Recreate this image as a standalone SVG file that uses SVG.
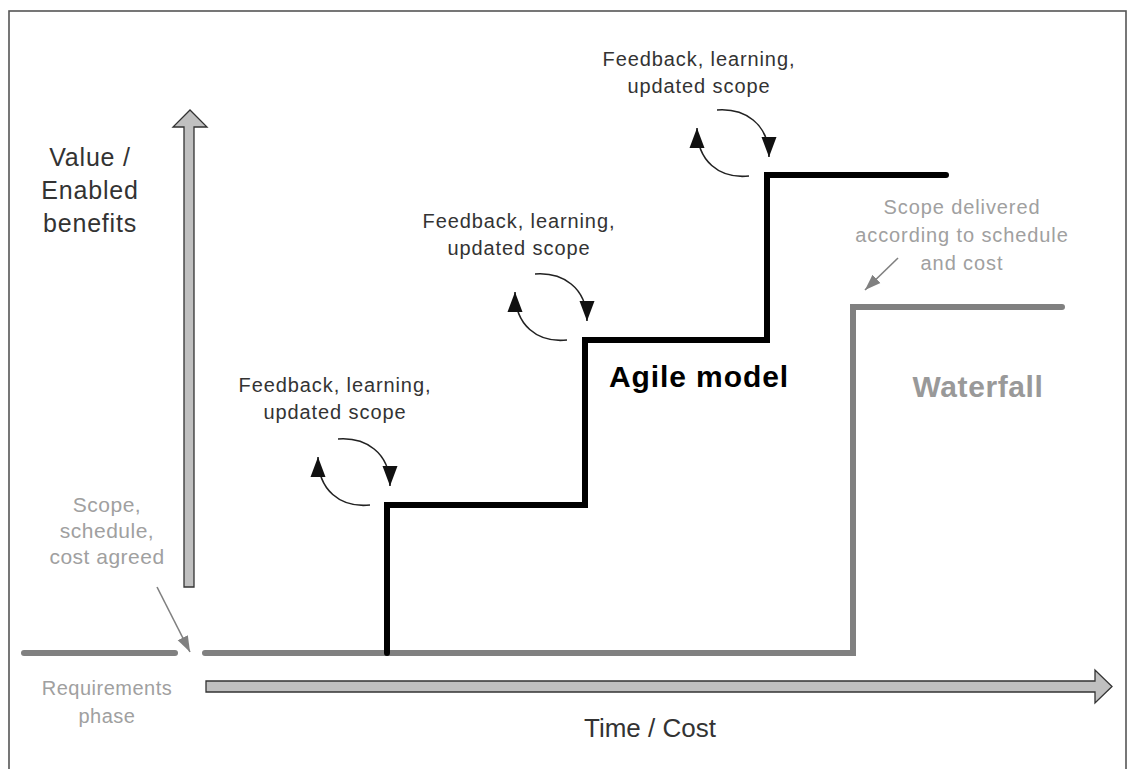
<svg xmlns="http://www.w3.org/2000/svg" width="1130" height="769" viewBox="0 0 1130 769">
<style>
.t{font-family:"Liberation Sans",Arial,sans-serif;text-anchor:middle}
.dark{fill:#333}
.grey{fill:#a0a0a0}
.fb{font-size:20px;letter-spacing:0.9px;fill:#333}
.axis{fill:#c0c0c0;stroke:#333;stroke-width:1.3}
.cyc{fill:none;stroke:#222;stroke-width:1.6}
.ptr{fill:none;stroke:#808080;stroke-width:1.6}
</style>
<defs>
<marker id="ah" markerUnits="userSpaceOnUse" markerWidth="20" markerHeight="20" viewBox="0 0 16 12" refX="16" refY="6" orient="auto">
<path d="M0,0 L16,6 L0,12 Z" fill="#111"/>
</marker>
<marker id="ag" markerUnits="userSpaceOnUse" markerWidth="16" markerHeight="16" viewBox="0 0 14 10" refX="14" refY="5" orient="auto">
<path d="M0,0 L14,5 L0,10 Z" fill="#808080"/>
</marker>
</defs>
<rect width="1130" height="769" fill="#fff"/>
<rect x="9" y="11" width="1117" height="800" fill="none" stroke="#555" stroke-width="1.6"/>

<g id="value-axis">
<polygon class="axis" points="184,587 184,127 173,127 190,110 207,127 194,127 194,587"/>
<text class="t dark" font-size="25" letter-spacing="0.8" x="90" y="166">Value /</text>
<text class="t dark" font-size="25" letter-spacing="0.8" x="90" y="199">Enabled</text>
<text class="t dark" font-size="25" letter-spacing="0.8" x="90" y="232">benefits</text>
</g>

<g id="time-axis">
<polygon class="axis" points="206,681 1095,681 1095,670 1112,686.5 1095,703 1095,692 206,692"/>
<text class="t dark" font-size="26" x="650" y="737">Time / Cost</text>
</g>

<g id="requirements">
<line x1="24" y1="653" x2="175" y2="653" stroke="#808080" stroke-width="6" stroke-linecap="round"/>
<text class="t grey" font-size="20" letter-spacing="0.5" x="107" y="695">Requirements</text>
<text class="t grey" font-size="20" letter-spacing="0.5" x="107" y="723">phase</text>
</g>

<g id="agreed-note">
<text class="t grey" font-size="21" letter-spacing="0.5" x="107" y="512">Scope,</text>
<text class="t grey" font-size="21" letter-spacing="0.5" x="107" y="538">schedule,</text>
<text class="t grey" font-size="21" letter-spacing="0.5" x="107" y="564">cost agreed</text>
</g>

<g id="waterfall">
<polyline points="205,653 853,653 853,307 1062,307" fill="none" stroke="#808080" stroke-width="6" stroke-linecap="round" stroke-linejoin="miter"/>
<text class="t" font-size="30" font-weight="bold" letter-spacing="0.6" fill="#999" x="978" y="397">Waterfall</text>
</g>

<g id="delivered-note">
<text class="t grey" font-size="20" letter-spacing="0.9" x="962" y="214">Scope delivered</text>
<text class="t grey" font-size="20" letter-spacing="0.9" x="962" y="242">according to schedule</text>
<text class="t grey" font-size="20" letter-spacing="0.9" x="962" y="270">and cost</text>
</g>

<g id="agile">
<polyline points="387,653 387,505 585,505 585,340 767,340 767,175 946,175" fill="none" stroke="#000" stroke-width="6" stroke-linecap="round" stroke-linejoin="miter"/>
<text class="t" font-size="30" font-weight="bold" letter-spacing="0.9" fill="#000" x="699" y="387">Agile model</text>
</g>

<g id="feedback-1">
<text class="t fb" x="335" y="392">Feedback, learning,</text>
<text class="t fb" x="335" y="419">updated scope</text>
</g>
<g id="feedback-2">
<text class="t fb" x="519" y="228">Feedback, learning,</text>
<text class="t fb" x="519" y="255">updated scope</text>
</g>
<g id="feedback-3">
<text class="t fb" x="699" y="66">Feedback, learning,</text>
<text class="t fb" x="699" y="93">updated scope</text>
</g>

<g id="connectors">
<path class="cyc" d="M338,439 C365,437 390,452 390,486" marker-end="url(#ah)"/>
<path class="cyc" d="M370,505 C340,508 318,490 318,457" marker-end="url(#ah)"/>
<path class="cyc" d="M535,274 C562,272 587,287 587,321" marker-end="url(#ah)"/>
<path class="cyc" d="M567,340 C537,343 515,325 515,292" marker-end="url(#ah)"/>
<path class="cyc" d="M717,110 C744,108 769,123 769,157" marker-end="url(#ah)"/>
<path class="cyc" d="M749,176 C719,179 697,161 697,128" marker-end="url(#ah)"/>
<line class="ptr" x1="157" y1="587" x2="190" y2="652" marker-end="url(#ag)"/>
<line class="ptr" x1="898" y1="258" x2="865" y2="290" marker-end="url(#ag)"/>
</g>
</svg>
